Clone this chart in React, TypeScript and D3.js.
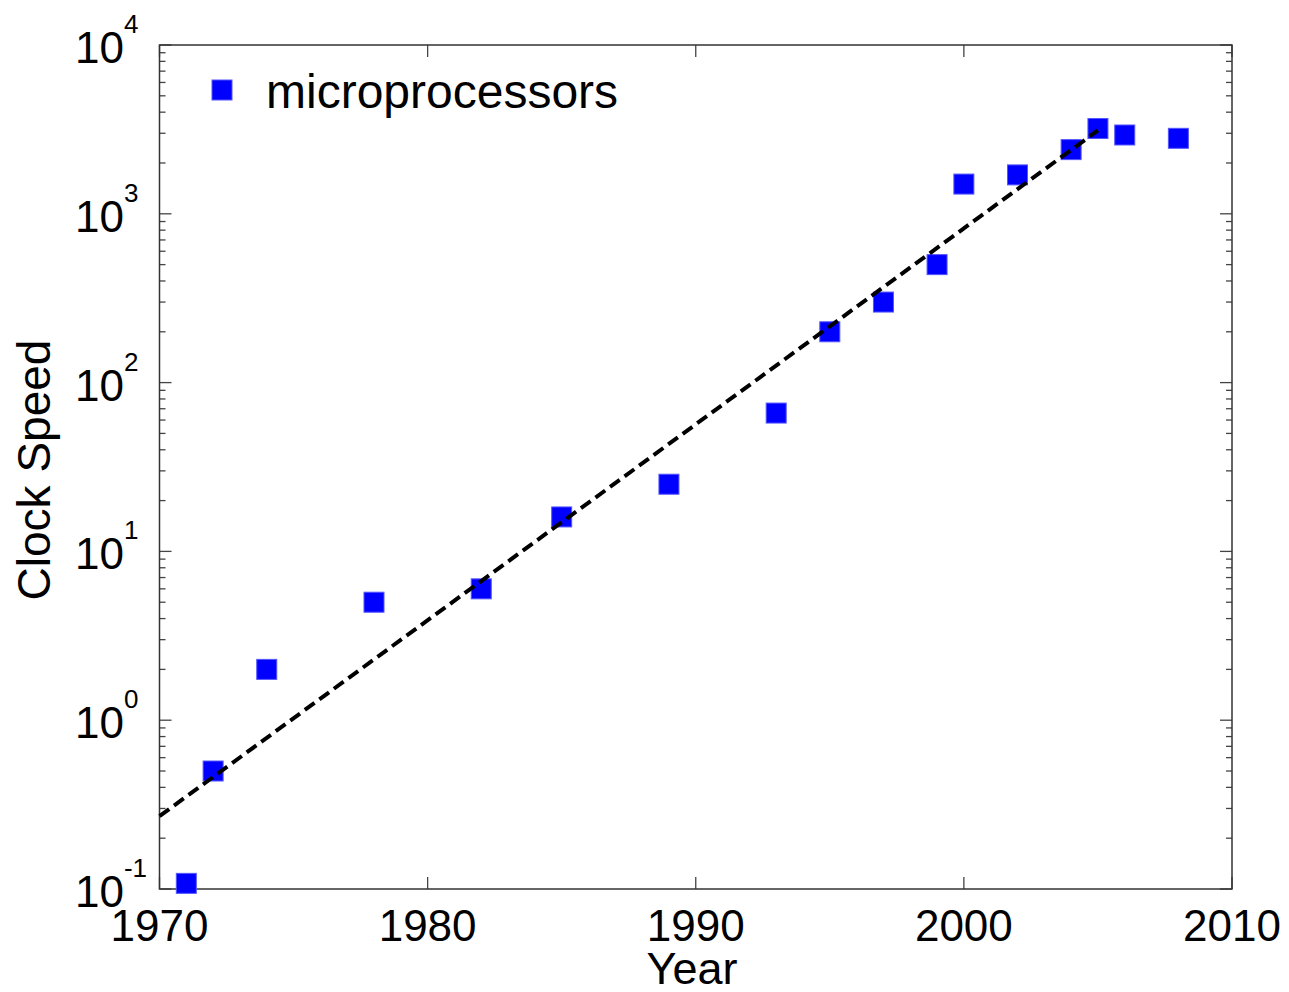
import React from "react";
import * as d3 from "d3";

const years = [1971, 1972, 1974, 1978, 1982, 1985, 1989, 1993, 1995, 1997, 1999, 2000, 2002, 2004, 2005, 2006, 2008];
const clockSpeeds = [0.108, 0.5, 2, 5, 6, 16, 25, 66, 200, 300, 500, 1500, 1700, 2400, 3200, 2930, 2800];
const fitYears = [1970, 2005];
const fitValues = [0.27, 3120];
const xTicks = [1970, 1980, 1990, 2000, 2010];
const yExponents = [-1, 0, 1, 2, 3, 4];
const seriesName = "microprocessors";

const W = 1289;
const H = 992;
const M = { left: 159.5, right: 1232, top: 45, bottom: 889 };
const FONT = "'Liberation Sans', Arial, Helvetica, sans-serif";

export default function App() {
  const x = d3.scaleLinear().domain([1970, 2010]).range([M.left, M.right]);
  const y = d3.scaleLog().domain([0.1, 10000]).range([M.bottom, M.top]);

  const minor: number[] = [];
  yExponents.slice(0, -1).forEach((e) => {
    for (let k = 2; k <= 9; k++) minor.push(k * Math.pow(10, e));
  });

  const line = d3
    .line<number>()
    .x((_, i) => x(fitYears[i]))
    .y((v) => y(v));

  const sq = 20;
  const tickColor = "#444";

  return (
    <svg width={W} height={H} style={{ position: "absolute", left: 0, top: 0, background: "#fff" }} fontFamily={FONT}>
      <rect x={0} y={0} width={W} height={H} fill="#fff" />
      {/* minor y ticks */}
      {minor.map((v, i) => (
        <g key={"m" + i} stroke={tickColor} strokeWidth={1.3}>
          <line x1={M.left} x2={M.left + 6} y1={y(v)} y2={y(v)} />
          <line x1={M.right} x2={M.right - 6} y1={y(v)} y2={y(v)} />
        </g>
      ))}
      {/* major y ticks */}
      {yExponents.map((e) => (
        <g key={"M" + e} stroke={tickColor} strokeWidth={1.3}>
          <line x1={M.left} x2={M.left + 12} y1={y(Math.pow(10, e))} y2={y(Math.pow(10, e))} />
          <line x1={M.right} x2={M.right - 12} y1={y(Math.pow(10, e))} y2={y(Math.pow(10, e))} />
        </g>
      ))}
      {/* x ticks */}
      {xTicks.map((t) => (
        <g key={"x" + t} stroke={tickColor} strokeWidth={1.3}>
          <line x1={x(t)} x2={x(t)} y1={M.bottom} y2={M.bottom - 12} />
          <line x1={x(t)} x2={x(t)} y1={M.top} y2={M.top + 12} />
        </g>
      ))}
      {/* box */}
      <rect
        x={M.left}
        y={M.top}
        width={M.right - M.left}
        height={M.bottom - M.top}
        fill="none"
        stroke="#333"
        strokeWidth={1.5}
      />
      {/* points */}
      {years.map((yr, i) => (
        <rect
          key={"p" + yr}
          x={x(yr) - sq / 2}
          y={y(clockSpeeds[i]) - sq / 2}
          width={sq}
          height={sq}
          fill="#0000ff"
          stroke="#5555ff"
          strokeWidth={1}
        />
      ))}
      {/* fit line */}
      <path d={line(fitValues) || ""} fill="none" stroke="#000" strokeWidth={4} strokeDasharray="12,6" />
      {/* y tick labels */}
      {yExponents.map((e) => (
        <text key={"yl" + e} x={75} y={y(Math.pow(10, e)) + 18} fontSize={44} fill="#000">
          10
          <tspan dy={-30} fontSize={26}>{String(e)}</tspan>
        </text>
      ))}
      {/* x tick labels */}
      {xTicks.map((t) => (
        <text key={"xl" + t} x={x(t)} y={941} fontSize={44} textAnchor="middle" fill="#000">
          {t}
        </text>
      ))}
      {/* axis labels */}
      <text x={692} y={984} fontSize={45} textAnchor="middle" fill="#000">
        Year
      </text>
      <text
        transform={`translate(50,${(M.top + M.bottom) / 2 + 3}) rotate(-90)`}
        fontSize={46}
        textAnchor="middle"
        fill="#000"
      >
        Clock Speed
      </text>
      {/* legend */}
      <rect x={212} y={80} width={20} height={20} fill="#0000ff" stroke="#5555ff" strokeWidth={1} />
      <text x={266} y={108} fontSize={48} fill="#000">
        {seriesName}
      </text>
    </svg>
  );
}
